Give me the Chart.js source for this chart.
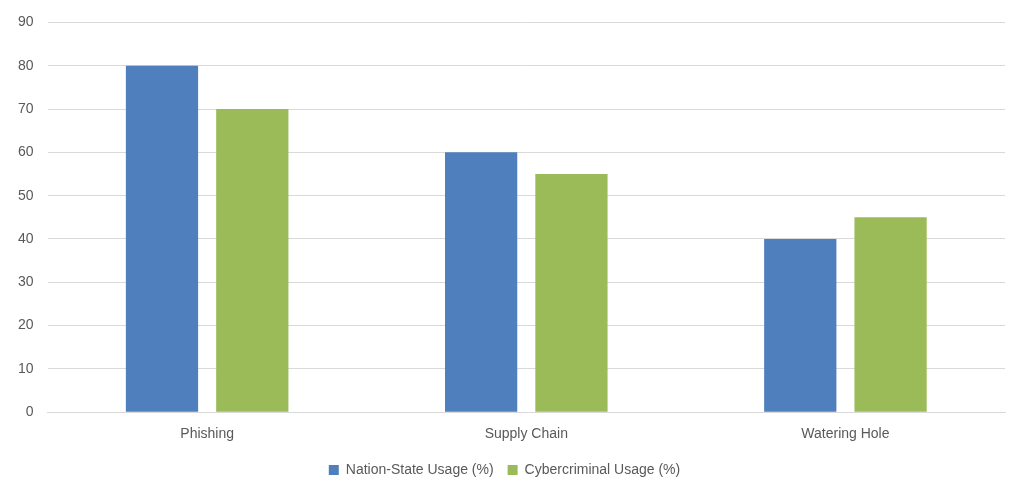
<!DOCTYPE html>
<html><head><meta charset="utf-8">
<script src="https://cdn.jsdelivr.net/npm/chart.js@4"></script>
<style>html,body{margin:0;padding:0;background:#fff}#w{width:1010px;height:489px}</style>
</head><body><div id="w"><canvas id="c"></canvas></div>
<script>
const categories = ["Phishing", "Supply Chain", "Watering Hole"];
const nationState = [80, 60, 40];
const cybercriminal = [70, 55, 45];
const seriesNames = ["Nation-State Usage (%)", "Cybercriminal Usage (%)"];

new Chart(document.getElementById('c'), {
  type: 'bar',
  data: {
    labels: categories,
    datasets: [
      {label: seriesNames[0], data: nationState, backgroundColor: '#4F7FBC'},
      {label: seriesNames[1], data: cybercriminal, backgroundColor: '#9BBB59'}
    ]
  },
  options: {
    responsive: true, maintainAspectRatio: false, animation: false,
    layout: {padding: {left: 4, right: 5, top: 6, bottom: 2}},
    datasets: {bar: {categoryPercentage: 0.566, barPercentage: 0.8}},
    plugins: {
      legend: {position: 'bottom', labels: {boxWidth: 10, boxHeight: 10, color: '#595959', font: {family: 'Liberation Sans, Arial', size: 14}, padding: 14}},
      tooltip: {enabled: false}
    },
    scales: {
      x: {grid: {display: false}, border: {color: '#d9d9d9'},
          ticks: {color: '#595959', font: {family: 'Liberation Sans, Arial', size: 14}, padding: 6}},
      y: {min: 0, max: 90, ticks: {stepSize: 10, color: '#595959', font: {family: 'Liberation Sans, Arial', size: 14}, padding: 14},
          grid: {color: '#d9d9d9', drawTicks: false}, border: {display: false}}
    }
  }
});
</script></body></html>
